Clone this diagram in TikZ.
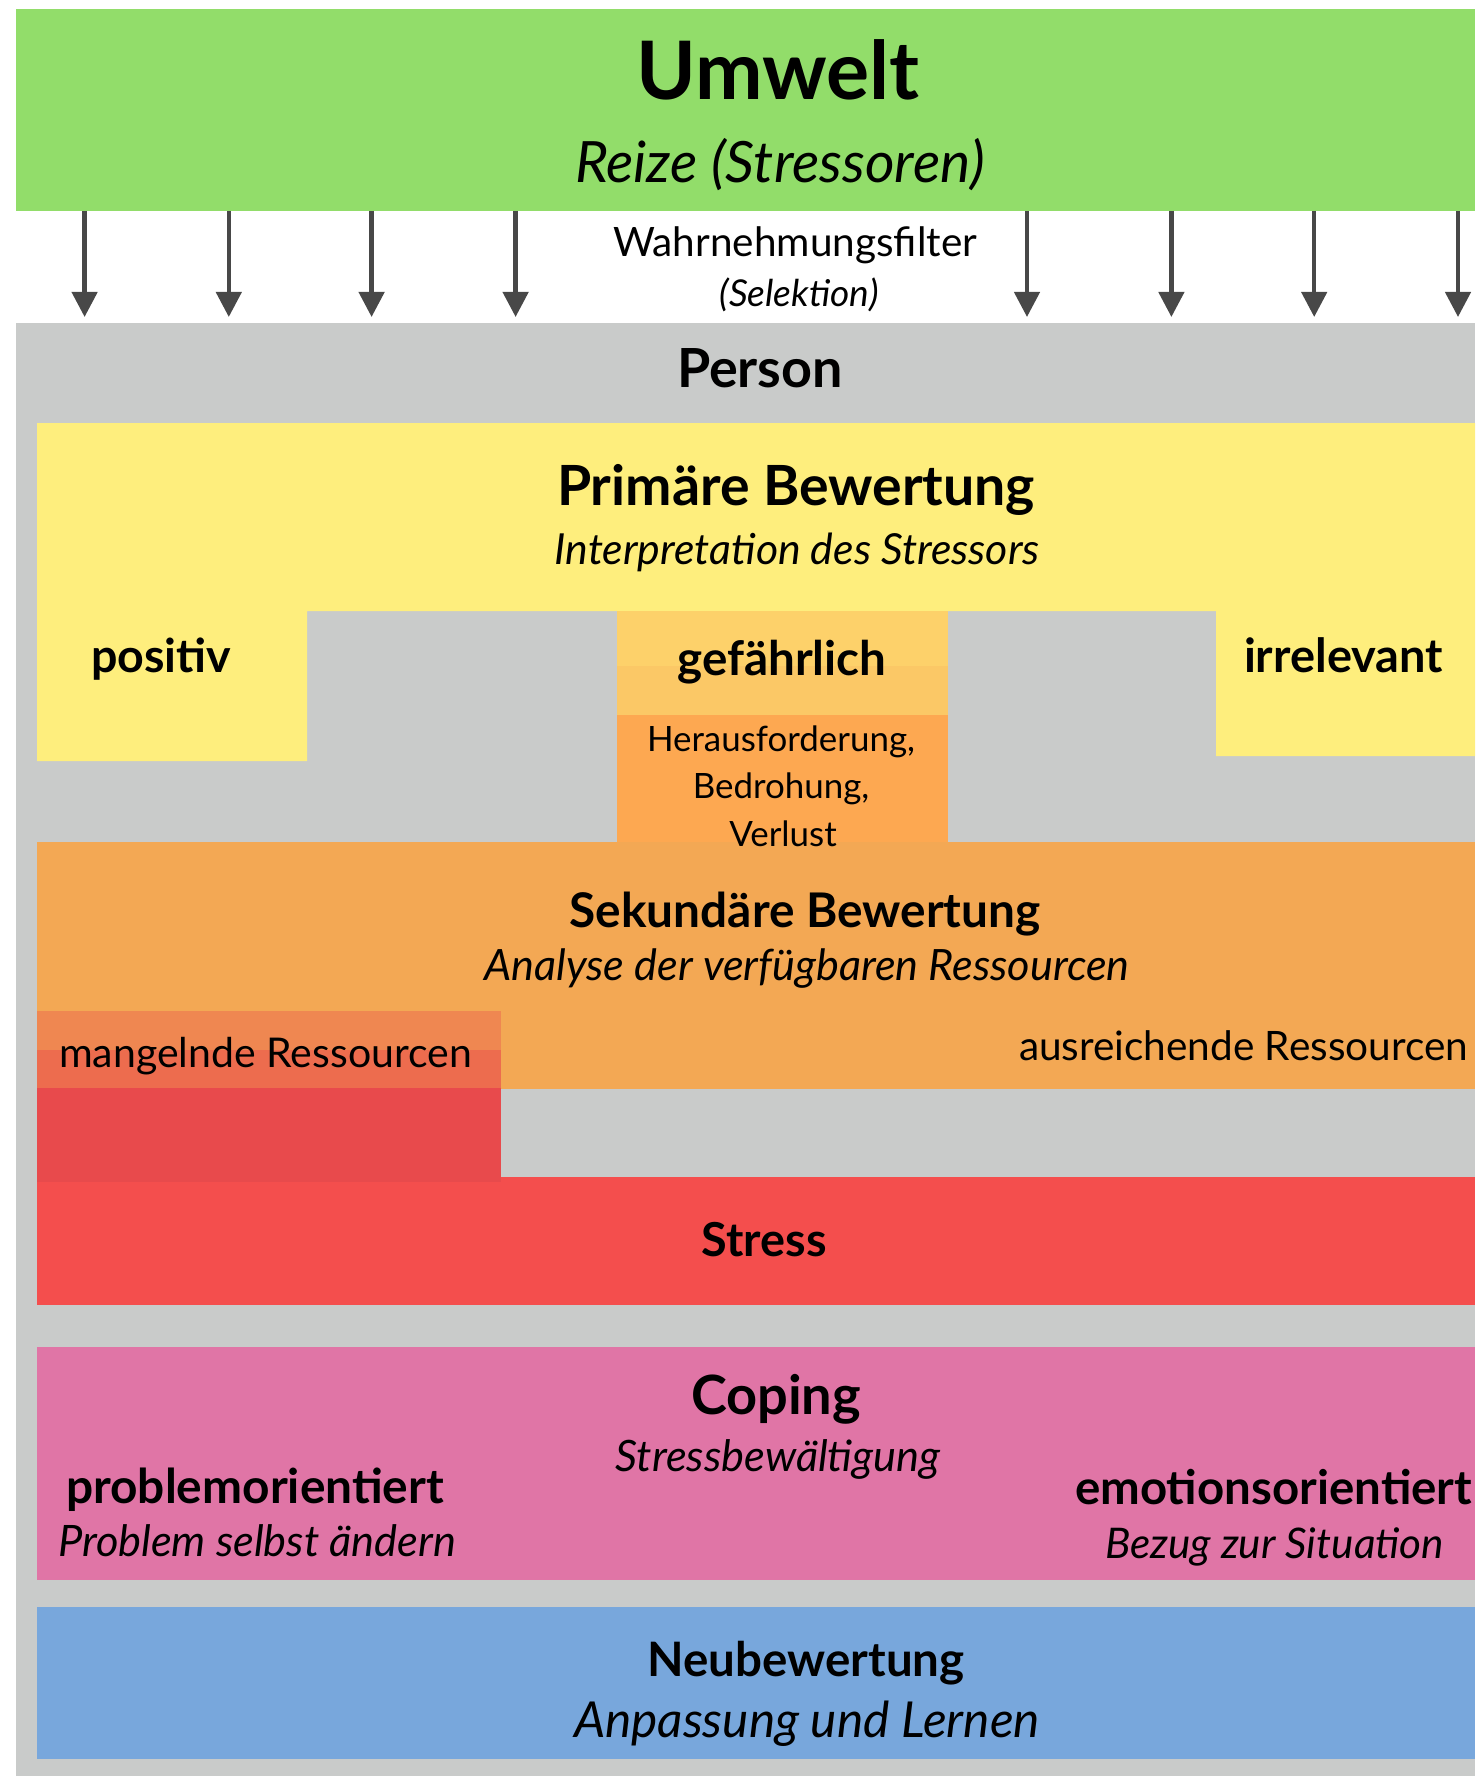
\documentclass[tikz,border=0pt]{standalone}
\usepackage{fontspec}
\setmainfont{Lato}
\usetikzlibrary{arrows.meta}
\definecolor{cGreen}{HTML}{92DD6A}
\definecolor{cGray}{HTML}{C9CBCA}
\definecolor{cYellow}{HTML}{FEEE7D}
\definecolor{cGefTop}{HTML}{FDD16A}
\definecolor{cGefBand}{HTML}{FBC866}
\definecolor{cGefLow}{HTML}{FDA851}
\definecolor{cOrange}{HTML}{F3A854}
\definecolor{cMang1}{HTML}{EF8751}
\definecolor{cMang2}{HTML}{ED6C4E}
\definecolor{cMang3}{HTML}{E84A4C}
\definecolor{cRed}{HTML}{F44E4D}
\definecolor{cPink}{HTML}{E075A6}
\definecolor{cBlue}{HTML}{78A7DC}
\definecolor{cArrow}{HTML}{484848}
\newlength\fitlen
\newcommand\fitw[3]{\settowidth\fitlen{\fontsize{10pt}{12pt}\selectfont #1#3}\pgfmathsetmacro\fitsz{10*#2/\fitlen}\fontsize{\fitsz pt}{\fitsz pt}\selectfont #1#3}
\newcommand\hersize{\fitw{}{268}{Herausforderung,}\xdef\hsz{\fitsz}}
\tikzset{
  panel/.style={draw=none, inner sep=0pt, outer sep=0pt, anchor=north west},
  lbl/.style={inner sep=0pt, outer sep=0pt, text=black},
  filterarrow/.style={draw=cArrow, line width=4.5pt, -{Triangle[width=25pt,length=25pt]}, shorten >=6pt},
}
\begin{document}
\begin{tikzpicture}[x=1pt,y=-1pt]
\useasboundingbox (0,0) rectangle (1475,1776);
\fill[white] (0,0) rectangle (1475,1776);
% panels
\node[panel, fill=cGreen, minimum width=1459pt, minimum height=202pt] (umwelt) at (16,9) {};
\node[panel, fill=cGray, minimum width=1459pt, minimum height=1453pt] (person) at (16,323) {};
% primary appraisal
\fill[cYellow] (37,423) -- (1475,423) -- (1475,756) -- (1216,756) -- (1216,611) -- (307,611) -- (307,761) -- (37,761) -- cycle;
\fill[cGefTop] (617,611) rectangle (948,666);
\fill[cGefBand] (617,666) rectangle (948,715);
\fill[cGefLow] (617,715) rectangle (948,842);
% secondary appraisal
\fill[cOrange] (37,842) rectangle (1475,1089);
\fill[cRed] (37,1177) rectangle (1475,1305);
\fill[cMang1] (37,1011) rectangle (500.5,1050);
\fill[cMang2] (37,1050) rectangle (500.5,1088);
\fill[cMang3] (37,1088) rectangle (500.5,1182);
% coping, reappraisal
\fill[cPink] (37,1347) rectangle (1475,1580);
\fill[cBlue] (37,1607) rectangle (1475,1759);
% arrows
\foreach \x [count=\i] in {84.6,228.8,371.6,515.6,1027,1171.4,1314.2,1458}{
  \coordinate (ax\i) at (\x,0);
  \draw[filterarrow] (umwelt.south -| ax\i) -- (person.north -| ax\i);
}
% texts
\node[lbl, anchor=base] (tUmwelt) at (778,100) {\fitw{\bfseries}{283}{Umwelt}};
\node[lbl, anchor=base] (tReize) at (780,183) {\fitw{\itshape}{410}{Reize (Stressoren)}};
\node[lbl, anchor=base] (tFilter) at (795,257) {\fitw{}{364}{Wahrnehmungsfilter}};
\node[lbl, anchor=base] (tSel) at (799,306) {\fitw{\itshape}{159}{(Selektion)}};
\node[lbl, anchor=base] (tPerson) at (760,387) {\fitw{\bfseries}{166}{Person}};
\node[lbl, anchor=base] (tPrim) at (796,505) {\fitw{\bfseries}{478}{Primäre Bewertung}};
\node[lbl, anchor=base] (tInterp) at (797,564) {\fitw{\itshape}{485}{Interpretation des Stressors}};
\node[lbl, anchor=base west] (tPos) at (91,672) {\fitw{\bfseries}{140}{positiv}};
\node[lbl, anchor=base] (tGef) at (782,675) {\fitw{\bfseries}{209}{gefährlich}};
\node[lbl, anchor=base west] (tIrr) at (1244,672) {\fitw{\bfseries}{199}{irrelevant}};
\node[lbl, anchor=base] (tHer) at (781,751) {\hersize};
\node[lbl, anchor=base] (tBed) at (781,798) {\fontsize{\hsz pt}{\hsz pt}\selectfont Bedrohung,};
\node[lbl, anchor=base] (tVer) at (783,846) {\fontsize{\hsz pt}{\hsz pt}\selectfont Verlust};
\node[lbl, anchor=base] (tSek) at (805,927) {\fitw{\bfseries}{471}{Sekundäre Bewertung}};
\node[lbl, anchor=base] (tAna) at (807,980) {\fitw{\itshape}{645}{Analyse der verfügbaren Ressourcen}};
\node[lbl, anchor=base west] (tMang) at (59,1067) {\fitw{}{413}{mangelnde Ressourcen}};
\node[lbl, anchor=base east] (tAus) at (1468,1060) {\fitw{}{449}{ausreichende Ressourcen}};
\node[lbl, anchor=base] (tStress) at (764,1256) {\fitw{\bfseries}{125}{Stress}};
\node[lbl, anchor=base] (tCoping) at (776,1414) {\fitw{\bfseries}{170}{Coping}};
\node[lbl, anchor=base] (tBew) at (778,1471) {\fitw{\itshape}{325}{Stressbewältigung}};
\node[lbl, anchor=base west] (tProb) at (66,1503) {\fitw{\bfseries}{378}{problemorientiert}};
\node[lbl, anchor=base west] (tProbS) at (58,1556) {\fitw{\itshape}{398}{Problem selbst ändern}};
\node[lbl, anchor=base east] (tEmo) at (1472,1504) {\fitw{\bfseries}{397}{emotionsorientiert}};
\node[lbl, anchor=base east] (tEmoS) at (1444,1558) {\fitw{\itshape}{339}{Bezug zur Situation}};
\node[lbl, anchor=base] (tNeu) at (806,1676) {\fitw{\bfseries}{317}{Neubewertung}};
\node[lbl, anchor=base] (tAnp) at (807,1737) {\fitw{\itshape}{466}{Anpassung und Lernen}};
\end{tikzpicture}
\end{document}
